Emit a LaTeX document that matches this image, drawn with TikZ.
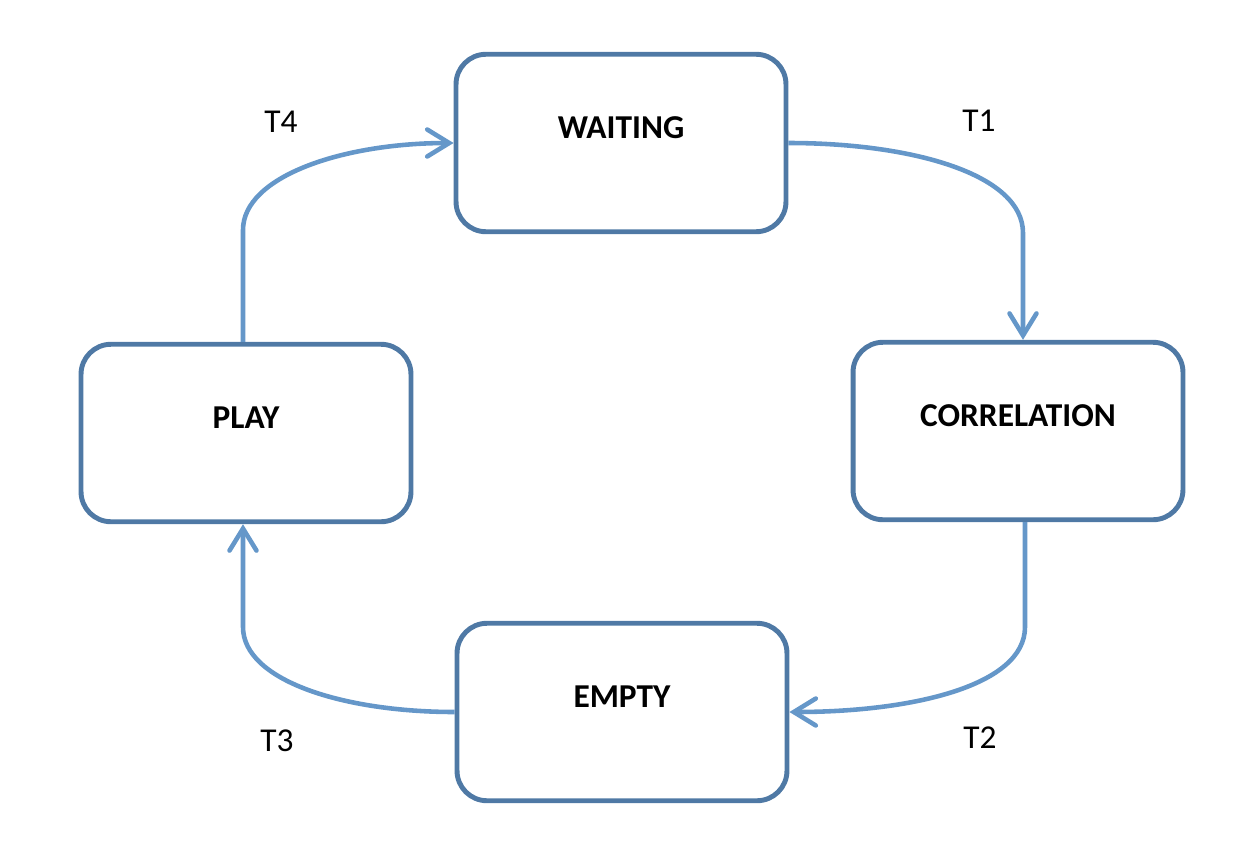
\documentclass[tikz,border=0pt]{standalone}
\usepackage{fontspec}
\setmainfont{Carlito}
\usetikzlibrary{arrows.meta}
\definecolor{boxline}{RGB}{79,121,165}
\definecolor{arrline}{RGB}{101,151,201}

\begin{document}
\begin{tikzpicture}[x=0.02cm,y=-0.02cm,
  state/.style={draw=boxline,line width=2.8pt,rounded corners=0.6cm,minimum width=6.6cm,minimum height=3.55cm,font=\fontsize{19}{23}\selectfont\bfseries,text depth=0.6cm},
  trans/.style={draw=arrline,line width=2.6pt,-{Straight Barb[length=0.44cm,width=0.54cm,line cap=round]}},
  tlabel/.style={font=\fontsize{19}{23}\selectfont}]
\useasboundingbox (0,0) rectangle (1258,856);
\node[state] (waiting) at (621,143) {WAITING};
\node[state] (correlation) at (1018,431) {CORRELATION};
\node[state] (empty) at (622,712) {EMPTY};
\node[state] (play) at (246,433) {PLAY};
\coordinate (c1) at (1023,233);
\coordinate (c2) at (1025,627);
\coordinate (c3) at (243,627);
\coordinate (c4) at (243,230);
\draw[trans] (waiting.east) to[out=0,in=90,out looseness=1.25,in looseness=0.6] (c1) -- (c1 |- correlation.north);
\draw[trans] (c2 |- correlation.south) -- (c2) to[out=-90,in=0,out looseness=0.6,in looseness=1.25] (empty.east);
\draw[trans] (empty.west) to[out=180,in=-90,out looseness=1.25,in looseness=0.6] (c3) -- (c3 |- play.south);
\draw[trans] (c4 |- play.north) -- (c4) to[out=90,in=180,out looseness=0.6,in looseness=1.25] (waiting.west);
\node[tlabel] (t1) at (979,121) {T1};
\node[tlabel] (t2) at (980,738) {T2};
\node[tlabel] (t3) at (277,741) {T3};
\node[tlabel] (t4) at (281,122) {T4};
\end{tikzpicture}
\end{document}
